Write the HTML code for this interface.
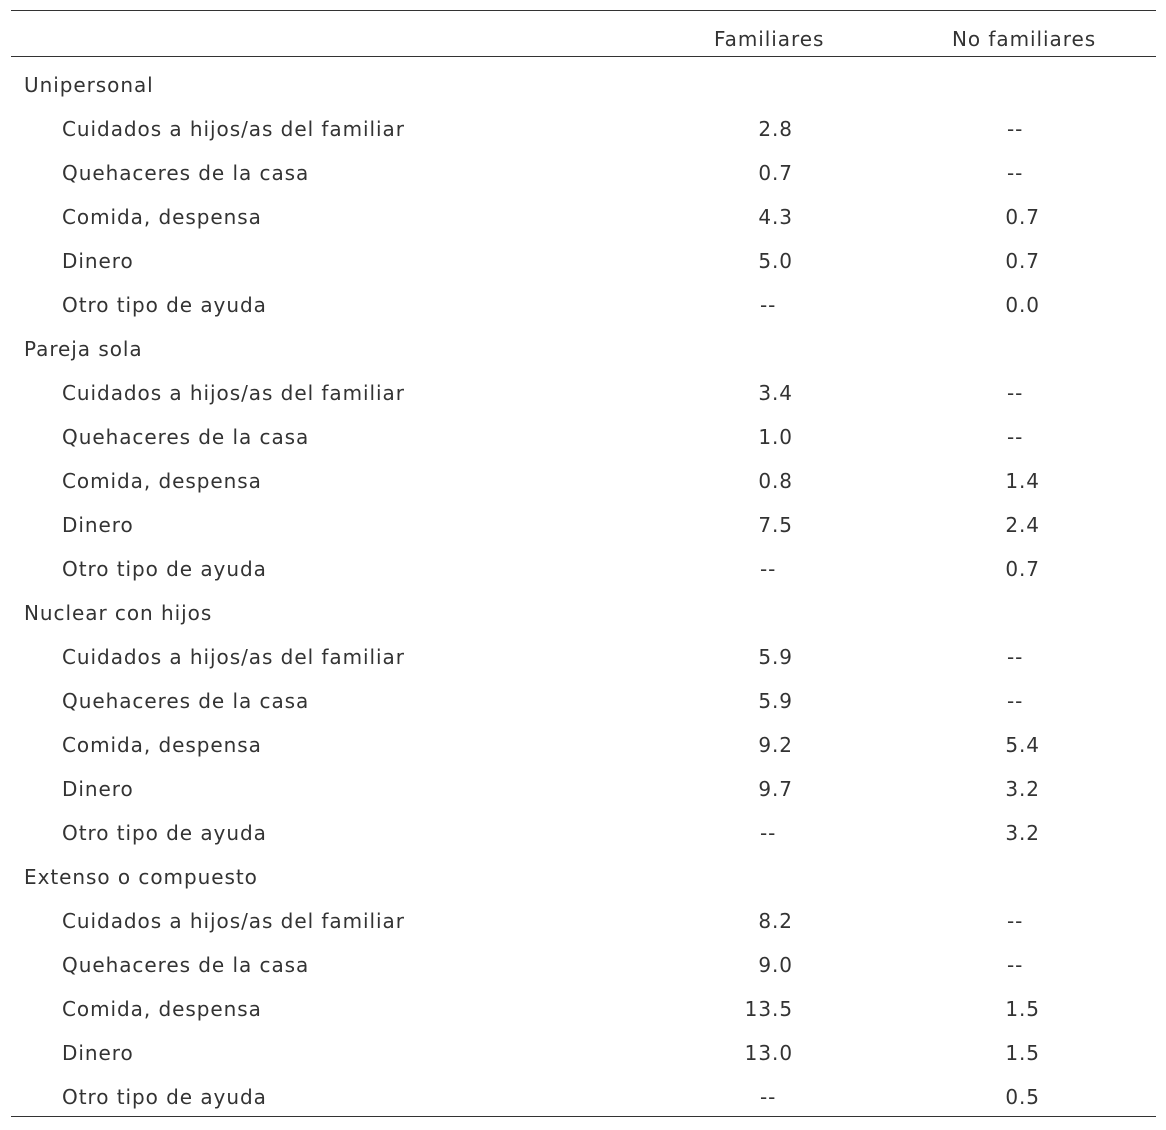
<!DOCTYPE html>
<html><head><meta charset="utf-8"><style>
body{margin:0;background:#fff;width:1166px;height:1130px;position:relative;overflow:hidden;font-family:"DejaVu Sans","Liberation Sans",sans-serif;font-size:20px;letter-spacing:0.95px;color:#333;}
.l{position:absolute;left:11px;width:1145px;height:0;border-top:1.6px solid #333}
.r{position:absolute;left:0;width:1166px;height:24px;line-height:24px}
.r span{position:absolute;white-space:nowrap}
.g{left:24px}.s{left:62px}
.a{right:373px}.ad{left:760px}
.b{right:126px}.bd{left:1007px}
</style></head><body>
<div class="l" style="top:10px"></div>
<div class="l" style="top:56px"></div>
<div class="l" style="top:1116px"></div>
<div class="r" style="top:27px"><span style="left:714px">Familiares</span><span style="left:952px">No familiares</span></div>
<div id="body"></div>
<script>
const groups=["Unipersonal","Pareja sola","Nuclear con hijos","Extenso o compuesto"];
const items=["Cuidados a hijos/as del familiar","Quehaceres de la casa","Comida, despensa","Dinero","Otro tipo de ayuda"];
const fam=[["2.8","0.7","4.3","5.0","--"],["3.4","1.0","0.8","7.5","--"],["5.9","5.9","9.2","9.7","--"],["8.2","9.0","13.5","13.0","--"]];
const nofam=[["--","--","0.7","0.7","0.0"],["--","--","1.4","2.4","0.7"],["--","--","5.4","3.2","3.2"],["--","--","1.5","1.5","0.5"]];
const b=document.getElementById('body');
let i=0;
function row(){const d=document.createElement('div');d.className='r';d.style.top=(73+44*i)+'px';i++;b.appendChild(d);return d;}
function sp(d,cls,t){const s=document.createElement('span');s.className=cls;s.textContent=t;d.appendChild(s);return s;}
groups.forEach((g,gi)=>{
 const d=row();
 
 
 sp(d,'g',g);
 items.forEach((it,k)=>{
  const r=row();
  
  
  sp(r,'s',it);
  const f=fam[gi][k],n=nofam[gi][k];
  sp(r,f==='--'?'ad':'a',f);
  sp(r,n==='--'?'bd':'b',n);
 });
});
</script>
</body></html>
